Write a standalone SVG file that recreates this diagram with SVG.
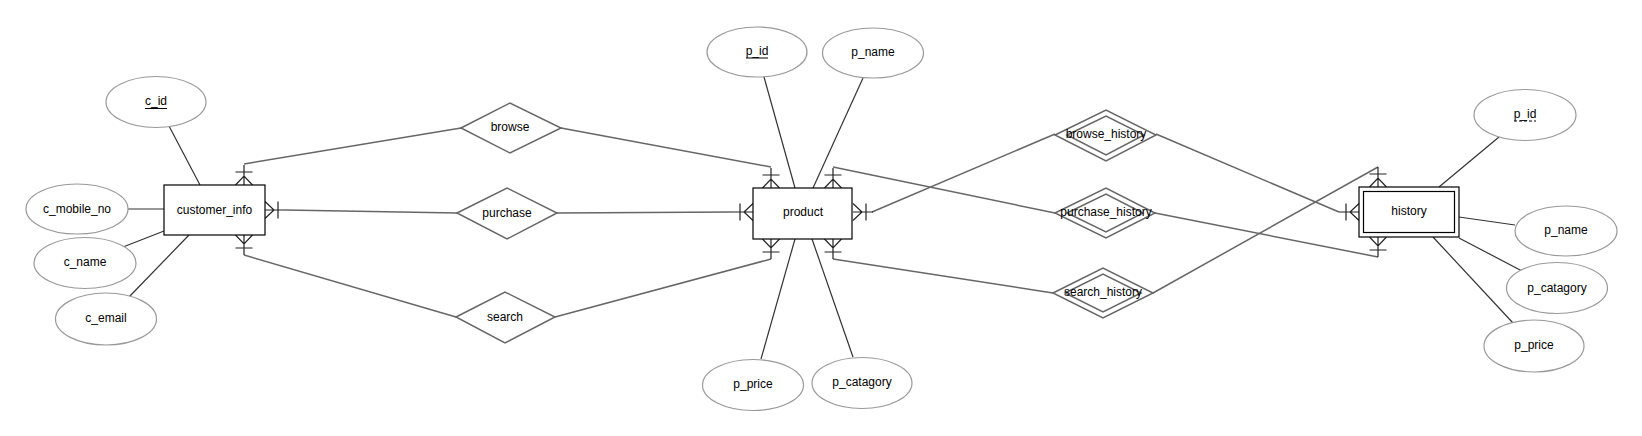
<svg xmlns="http://www.w3.org/2000/svg" xmlns:xlink="http://www.w3.org/1999/xlink" width="1642" height="436" viewBox="0 0 1642 436">
<style>
text{font-family:"Liberation Sans",Arial,sans-serif;font-size:12px;fill:#000;text-anchor:middle;dominant-baseline:central}
.attr{fill:#fff;stroke:#999;stroke-width:1.2}
.ent{fill:#fff;stroke:#000;stroke-width:1.2}
.rel{fill:#fff;stroke:#666;stroke-width:1.5}
.conn{fill:none;stroke:#666;stroke-width:1.5}
.aconn{fill:none;stroke:#333;stroke-width:1.2}
.cf{fill:none;stroke:#222;stroke-width:1.2}
.ul{stroke:#000;stroke-width:1}
</style>
<defs>
<g id="crow" class="cf"><path d="M0,-8.5 L9,0 L0,8.5 M13,-8.5 L13,8.5 M0,0 L20,0"/></g>
</defs>
<rect width="1642" height="436" fill="#fff"/>
<g id="connectors">
<path class="aconn" d="M169,126 L200,185"/>
<path class="aconn" d="M128,209 L164,209"/>
<path class="aconn" d="M123,247 L164,231"/>
<path class="aconn" d="M129,297 L189,235"/>
<path class="aconn" d="M764,77 L795,188"/>
<path class="aconn" d="M863,78 L813,188"/>
<path class="aconn" d="M761,359 L795,239"/>
<path class="aconn" d="M853,357 L812,239"/>
<path class="aconn" d="M1439,187 L1499,137"/>
<path class="aconn" d="M1459,217 L1515,225"/>
<path class="aconn" d="M1459,238 L1522,271"/>
<path class="aconn" d="M1433,237 L1513,323"/>
<path class="conn" d="M244,164 L461,128"/>
<path class="conn" d="M561,128 L771,167"/>
<path class="conn" d="M285,210 L457,213"/>
<path class="conn" d="M557,213 L733,212"/>
<path class="conn" d="M244,255 L456,317"/>
<path class="conn" d="M555,317 L771,259"/>
<path class="conn" d="M833,167 L1055,213"/>
<path class="conn" d="M1155,213 L1378,257"/>
<path class="conn" d="M872,212 L1055,134"/>
<path class="conn" d="M1156,134 L1339,212"/>
<path class="conn" d="M833,259 L1053,293"/>
<path class="conn" d="M1153,293 L1378,167"/>
<use xlink:href="#crow" transform="translate(244,185) rotate(-90)"/>
<use xlink:href="#crow" transform="translate(265,210)"/>
<use xlink:href="#crow" transform="translate(244,235) rotate(90)"/>
<use xlink:href="#crow" transform="translate(771,188) rotate(-90)"/>
<use xlink:href="#crow" transform="translate(833,188) rotate(-90)"/>
<use xlink:href="#crow" transform="translate(753,212) rotate(180)"/>
<use xlink:href="#crow" transform="translate(853,212)"/>
<use xlink:href="#crow" transform="translate(771,239) rotate(90)"/>
<use xlink:href="#crow" transform="translate(833,239) rotate(90)"/>
<use xlink:href="#crow" transform="translate(1378,187) rotate(-90)"/>
<use xlink:href="#crow" transform="translate(1359,212) rotate(180)"/>
<use xlink:href="#crow" transform="translate(1378,237) rotate(90)"/>
</g>
<g id="customer_info"><rect class="ent" x="164" y="185" width="101" height="50"/><text x="214.5" y="210">customer_info</text></g>
<g id="c_id"><ellipse class="attr" cx="156" cy="102" rx="50" ry="25.5"/><text x="156" y="101">c_id</text><line class="ul" x1="145" y1="108.5" x2="167" y2="108.5"/></g>
<g id="c_mobile_no"><ellipse class="attr" cx="77" cy="209" rx="51" ry="25"/><text x="77" y="209">c_mobile_no</text></g>
<g id="c_name"><ellipse class="attr" cx="85" cy="263" rx="51" ry="25.5"/><text x="85" y="262">c_name</text></g>
<g id="c_email"><ellipse class="attr" cx="106" cy="319" rx="50.5" ry="26"/><text x="106" y="318">c_email</text></g>
<g id="browse"><polygon class="rel" points="461,128 510,103 561,128 510,153"/><text x="510" y="127">browse</text></g>
<g id="purchase"><polygon class="rel" points="457,213 507,188 557,213 507,239"/><text x="507" y="213">purchase</text></g>
<g id="search"><polygon class="rel" points="456,317 505,292 555,317 505,343"/><text x="505" y="317">search</text></g>
<g id="product"><rect class="ent" x="753" y="188" width="99" height="51"/><text x="803" y="212">product</text></g>
<g id="p_id"><ellipse class="attr" cx="757" cy="52" rx="50" ry="25"/><text x="757" y="51">p_id</text><line class="ul" x1="746" y1="58" x2="768" y2="58"/></g>
<g id="p_name"><ellipse class="attr" cx="873" cy="53" rx="50.5" ry="25"/><text x="873" y="52">p_name</text></g>
<g id="p_price"><ellipse class="attr" cx="753" cy="385" rx="50.5" ry="25.5"/><text x="753" y="384">p_price</text></g>
<g id="p_catagory"><ellipse class="attr" cx="862" cy="383" rx="50" ry="25.5"/><text x="862" y="382">p_catagory</text></g>
<g id="browse_history"><polygon class="rel" points="1055,135 1106,110 1156,135 1106,161"/><polygon class="rel" points="1067,135 1106,116 1144,135 1106,155"/><text x="1106" y="134">browse_history</text></g>
<g id="purchase_history"><polygon class="rel" points="1055,213 1106,188 1155,213 1106,238"/><polygon class="rel" points="1067,213 1106,194 1143,213 1106,232"/><text x="1106" y="212">purchase_history</text></g>
<g id="search_history"><polygon class="rel" points="1053,293 1103,268 1153,293 1103,318"/><polygon class="rel" points="1065,293 1103,274 1141,293 1103,312"/><text x="1103" y="292">search_history</text></g>
<g id="history"><rect class="ent" x="1359" y="187" width="100" height="50"/><rect class="ent" x="1363.5" y="191.5" width="91" height="41"/><text x="1409" y="211">history</text></g>
<g id="h_p_id"><ellipse class="attr" cx="1525" cy="115" rx="51" ry="25.5"/><text x="1525" y="114">p_id</text><line class="ul" x1="1514" y1="121" x2="1536" y2="121" stroke-dasharray="3,2"/></g>
<g id="h_p_name"><ellipse class="attr" cx="1566" cy="231" rx="51" ry="25"/><text x="1566" y="230">p_name</text></g>
<g id="h_p_catagory"><ellipse class="attr" cx="1557" cy="288" rx="50.5" ry="25.5"/><text x="1557" y="288">p_catagory</text></g>
<g id="h_p_price"><ellipse class="attr" cx="1534" cy="346" rx="50" ry="26"/><text x="1534" y="345">p_price</text></g>
</svg>
